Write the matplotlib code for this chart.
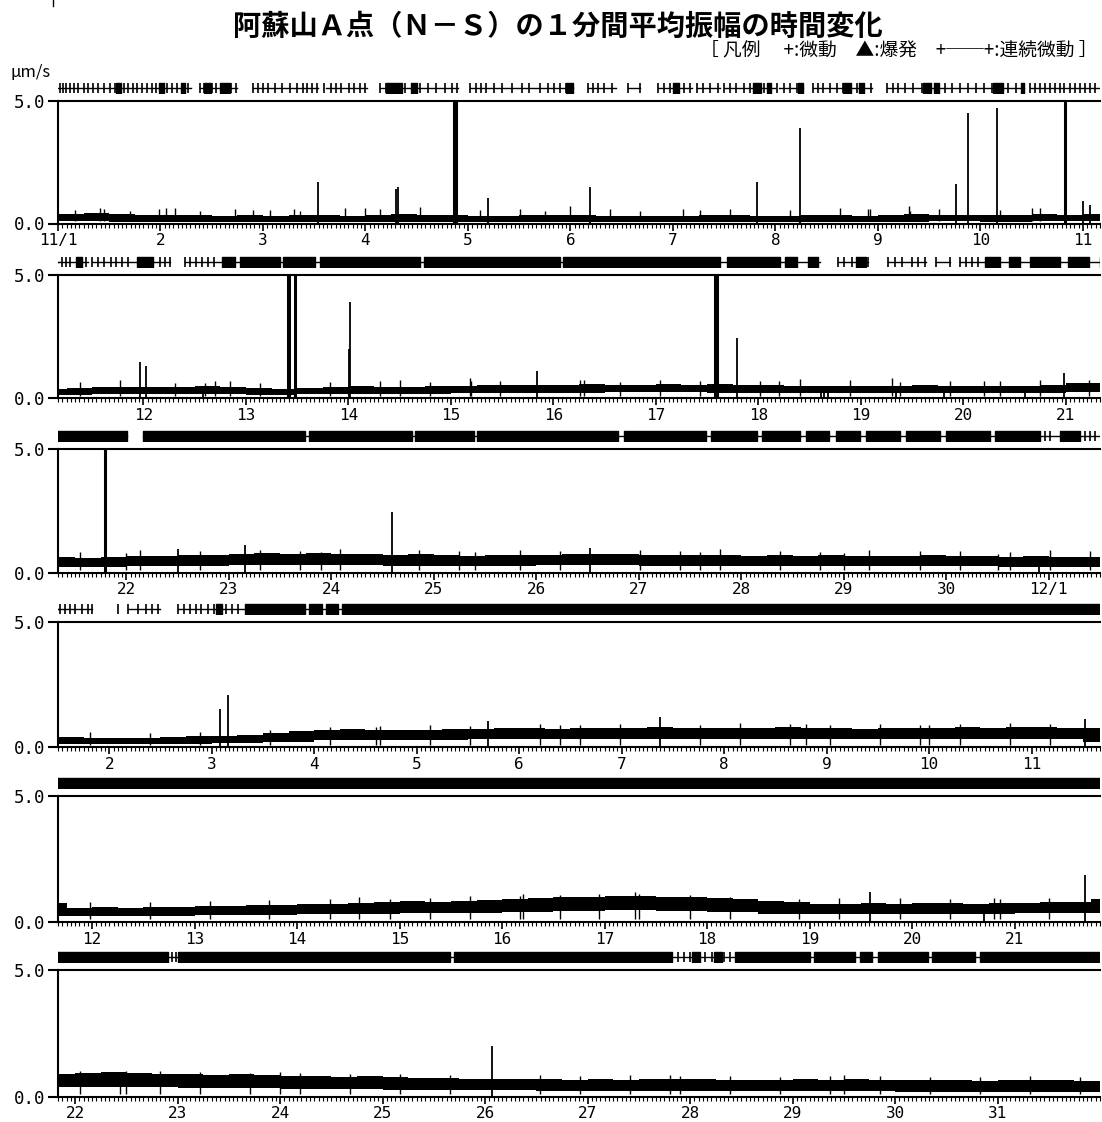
import matplotlib.pyplot as plt
import numpy as np
from matplotlib.ticker import MultipleLocator

plt.rcParams['font.family'] = ['Noto Sans CJK JP', 'DejaVu Sans']

# time axis: days counted from 11/1 00:00, six rows of 61/6 days each
n_rows = 6
row_days = 61 / 6

# top edge of the 1-minute amplitude trace (um/s), one value per 6 hours
trace_top = [
    # 11/1 - 11/10
    .40, .42, .38, .36, .34, .36, .32, .34, .32, .34, .36, .32, .36, .40, .36, .34,
    .32, .30, .33, .36, .34, .32, .30, .30, .30, .33, .34, .30, .32, .36, .34, .32,
    .34, .38, .36, .34, .34, .36, .38, .36,
    # 11/11 - 11/20
    .38, .40, .44, .46, .44, .46, .48, .46, .40, .36, .42, .46, .48, .46, .44, .48,
    .48, .52, .54, .52, .54, .56, .52, .54, .56, .54, .58, .54, .52, .50, .48, .50,
    .48, .50, .52, .48, .50, .48, .50, .52,
    # 11/21 - 11/30
    .60, .62, .60, .64, .66, .66, .70, .72, .74, .78, .76, .78, .76, .74, .72, .74,
    .70, .68, .70, .72, .72, .74, .76, .74, .72, .70, .72, .70, .68, .70, .68, .70,
    .68, .66, .68, .70, .68, .66, .64, .66,
    # 12/1 - 12/10
    .64, .62, .40, .38, .36, .38, .40, .44, .46, .50, .58, .64, .70, .72, .70, .68,
    .70, .72, .74, .76, .76, .74, .76, .78, .78, .80, .78, .76, .76, .78, .80, .78,
    .76, .74, .76, .78, .78, .80, .78, .80,
    # 12/11 - 12/20
    .80, .78, .76, .56, .58, .56, .60, .60, .62, .64, .66, .68, .70, .72, .76, .78,
    .82, .80, .84, .88, .92, .96, .98, 1.00, 1.02, 1.04, 1.00, .98, .94, .90, .84, .78,
    .72, .70, .74, .72, .74, .76, .72, .74,
    # 12/21 - 12/31
    .76, .78, .80, .90, .94, .96, .92, .90, .88, .84, .88, .86, .82, .80, .78, .80,
    .76, .74, .72, .70, .68, .70, .68, .66, .68, .66, .68, .70, .68, .66, .64, .66,
    .68, .66, .68, .66, .64, .66, .64, .62, .64, .66, .64, .62,
]

# bottom edge of the trace, one value per 12 hours
trace_low = [
    .10, .08, .08, .08, .08, .07, .08, .08, .07, .08, .07, .07, .07, .08, .08, .08, .08, .09, .08, .09,
    .12, .16, .18, .16, .14, .16, .18, .18, .20, .22, .22, .24, .24, .22, .22, .20, .20, .20, .20, .22,
    .24, .24, .26, .28, .32, .32, .30, .28, .28, .28, .30, .30, .28, .28, .28, .26, .26, .26, .26, .24,
    .24, .12, .12, .14, .16, .22, .28, .30, .30, .32, .32, .34, .34, .34, .34, .34, .32, .32, .34, .34,
    .34, .22, .22, .24, .26, .28, .30, .32, .34, .36, .40, .44, .46, .44, .40, .32, .30, .30, .30, .32,
    .34, .36, .38, .36, .34, .32, .30, .28, .26, .24, .24, .22, .22, .22, .22, .20, .20, .20, .18, .18,
    .18, .18,
]

# isolated peaks (time in days from 11/1, amplitude um/s; >5 is off scale)
spike_t = [2.54, 3.30, 3.32, 3.86, 3.87, 3.88, 4.20, 5.19, 6.82, 7.24, 8.76, 8.88, 9.16, 9.83,
           10.00, 10.07,
           10.97, 11.03, 12.41, 12.42, 12.48, 13.01, 13.02, 14.84, 16.58, 16.60, 16.79, 19.98,
           20.79, 21.50, 22.16, 23.59, 25.52,
           32.08, 32.16, 34.70, 36.37, 40.52,
           48.59, 50.69,
           55.07]
spike_h = [1.68, 1.40, 1.50, 5.5, 5.5, 5.5, 1.05, 1.50, 1.70, 3.90, 1.60, 4.50, 4.70, 5.5,
           0.90, 0.75,
           1.45, 1.30, 5.5, 5.5, 5.5, 2.00, 3.90, 1.10, 5.5, 5.5, 2.45, 1.00,
           5.5, 0.95, 1.10, 2.45, 1.00,
           1.55, 2.10, 1.05, 1.20, 1.15,
           1.20, 1.85,
           2.00]

# small bumps on top of the trace
ripple_t = [0.17, 0.41, 0.45, 0.70, 0.99, 1.05, 1.14, 1.39, 1.73, 1.90, 2.07, 2.30, 2.36, 2.80,
            3.00, 3.14, 3.53, 4.12, 4.51, 4.75, 5.00, 5.39, 5.68, 6.10, 6.26, 6.56, 7.14, 7.63,
            7.90, 7.92, 8.30, 8.31, 8.60, 9.19, 9.50, 9.58,
            10.38, 10.77, 11.31, 11.60, 11.70, 11.84, 12.14, 12.82, 13.31, 13.50, 13.80, 14.19,
            14.20, 14.48, 15.26, 15.30, 15.65, 16.04, 16.43, 17.02, 17.20, 17.41, 17.89, 18.30,
            18.38, 18.87, 19.20, 19.36, 19.75, 20.23,
            20.55, 21.00, 21.13, 21.72, 22.30, 22.69, 22.90, 23.08, 23.86, 24.25, 24.40, 24.84,
            25.23, 26.01, 26.40, 26.60, 26.79, 27.38, 27.77, 28.00, 28.25, 28.74, 29.13, 29.50,
            29.62, 30.01, 30.40,
            30.81, 31.40, 31.89, 32.57, 33.15, 33.60, 33.64, 34.13, 34.52, 35.20, 35.40, 35.59,
            35.98, 36.76, 37.15, 37.64, 37.80, 38.03, 38.52, 38.91, 39.00, 39.30, 39.79, 40.18,
            40.98, 41.56, 42.15, 42.73, 43.32, 43.60, 43.91, 44.30, 44.69, 45.17, 45.20, 45.56,
            45.95, 46.30, 46.34, 46.83, 47.22, 47.90, 48.29, 48.88, 49.37, 49.80, 49.86, 50.34,
            51.05, 51.44, 51.50, 51.83, 52.22, 52.71, 53.00, 53.19, 53.68, 54.17, 54.66, 55.54,
            55.93, 56.41, 56.80, 56.90, 57.39, 57.88, 58.37, 58.50, 58.85, 59.34, 59.83, 60.32,
            60.80]
ripple_h = [.55, .62, .60, .50, .58, .65, .65, .52, .60, .55, .55, .60, .50, .62,
            .65, .58, .66, .55, .60, .52, .70, .58, .50, .60, .56, .60, .54, .62,
            .60, .58, .70, .52, .60, .56, .65, .62,
            .65, .72, .62, .60, .70, .68, .60, .66, .70, .75, .64, .80,
            .70, .68, .72, .75, .66, .74, .70, .68, .70, .76, .72, .80,
            .66, .70, .70, .68, .74, .72,
            .85, .80, .90, .86, .92, .88, .85, .95, .90, .86, .85, .92,
            .88, .90, .86, .85, .94, .88, .84, .80, .90, .86, .88, .75,
            .84, .90, .86,
            .60, .58, .62, .70, .80, .80, .86, .90, .84, .92, .90, .88,
            .94, .90, .96, .92, .95, .88, .94, .90, .90, .92, .96, .94,
            .78, .80, .84, .86, .90, 1.00, .92, .96, 1.02, 1.05, 1.10, 1.08,
            1.12, 1.20, 1.10, 1.06, 1.00, .92, .96, .94, .92, .95, .90, .96,
            1.00, .98, 1.00, 1.02, .96, .94, .95, .92, .88, .90, .86, .84,
            .82, .84, .85, .80, .82, .78, .80, .85, .80, .78, .76, .80,
            .78]

# short drop-outs of the trace down to zero
dip_t = [11.58, 17.61, 17.64, 17.68, 18.34, 18.81, 19.60, 29.90, 49.70]

# activity row above each panel: continuous tremor lines, dense blocks, single marks
ev_lines = [(0.00, 1.30), (1.39, 1.75), (1.90, 2.54), (2.61, 3.01), (3.14, 3.90), (4.02, 5.02),
            (5.17, 5.44), (5.56, 5.68), (5.85, 6.19), (6.23, 6.46), (6.50, 7.00), (7.03, 7.27),
            (7.37, 7.94), (8.09, 9.43), (9.48, 10.17),
            (10.17, 10.46), (10.50, 11.26), (11.41, 17.60), (17.78, 18.07), (18.26, 18.64),
            (18.73, 18.87), (18.97, 20.33),
            (20.33, 21.01), (21.16, 30.50),
            (30.50, 30.83), (31.18, 31.50), (31.67, 40.67),
            (40.67, 61.00)]
ev_blocks = [(0.57, 0.61), (0.99, 1.03), (1.20, 1.24), (1.42, 1.49), (1.58, 1.68), (3.20, 3.36),
             (3.44, 3.50), (4.96, 5.02), (6.00, 6.06), (6.78, 6.86), (6.92, 6.96), (7.22, 7.27),
             (7.66, 7.74), (7.82, 7.86), (8.44, 8.52), (8.55, 8.60), (9.12, 9.22), (9.40, 9.43),
             (10.34, 10.40), (10.94, 11.09), (11.77, 11.89), (11.94, 12.33), (12.36, 12.67),
             (12.72, 13.70), (13.74, 15.06), (15.09, 16.63), (16.69, 17.21), (17.26, 17.38),
             (17.48, 17.58), (17.95, 18.05), (19.21, 19.36), (19.45, 19.55), (19.65, 19.94),
             (20.02, 20.23),
             (20.33, 21.01), (21.16, 22.74), (22.78, 23.79), (23.82, 24.39), (24.42, 25.80),
             (25.86, 26.66), (26.70, 27.15), (27.20, 27.57), (27.63, 27.86), (27.92, 28.16),
             (28.22, 28.55), (28.61, 28.94), (29.00, 29.43), (29.48, 29.91), (30.11, 30.30),
             (32.04, 32.10), (32.32, 32.91), (32.95, 33.08), (33.11, 33.23), (33.27, 40.67),
             (40.67, 50.83),
             (50.83, 51.91), (52.00, 54.66), (54.70, 56.82), (57.02, 57.10), (57.23, 57.31),
             (57.44, 58.17), (58.21, 58.61), (58.66, 58.78), (58.83, 59.32), (59.36, 59.78),
             (59.83, 61.00)]
ev_ticks = [0.02, 0.05, 0.08, 0.12, 0.16, 0.20, 0.25, 0.29, 0.34, 0.39, 0.45, 0.51, 0.56, 0.60,
            0.64, 0.68, 0.73, 0.77, 0.82, 0.87, 0.92, 0.96, 1.01, 1.06, 1.11, 1.16, 1.22, 1.27,
            1.39, 1.42, 1.50, 1.54, 1.60, 1.64, 1.69, 1.74,
            1.90, 1.95, 2.00, 2.05, 2.12, 2.19, 2.26, 2.33, 2.39, 2.43, 2.48, 2.53,
            2.60, 2.66, 2.71, 2.76, 2.84, 2.89, 2.95, 3.00,
            3.14, 3.20, 3.26, 3.34, 3.39, 3.45, 3.53, 3.61, 3.69, 3.78, 3.84, 3.89,
            4.02, 4.08, 4.13, 4.18, 4.25, 4.33, 4.43, 4.53, 4.60, 4.70, 4.78, 4.84, 4.90, 4.96, 5.00,
            5.17, 5.22, 5.27, 5.33, 5.41, 5.56, 5.68,
            5.85, 5.91, 5.97, 6.04, 6.11, 6.17, 6.23, 6.29, 6.36, 6.44,
            6.50, 6.56, 6.62, 6.69, 6.75, 6.82, 6.89, 6.95, 7.02, 7.08, 7.14, 7.21, 7.26,
            7.37, 7.42, 7.46, 7.53, 7.60, 7.66, 7.73, 7.80, 7.86, 7.93,
            8.09, 8.15, 8.20, 8.26, 8.34, 8.43, 8.51, 8.58, 8.65, 8.72, 8.80, 8.88, 8.96, 9.03,
            9.11, 9.19, 9.27, 9.35, 9.41,
            9.48, 9.53, 9.58, 9.63, 9.68, 9.73, 9.78, 9.82, 9.87, 9.92, 9.97, 10.02, 10.07, 10.12,
            10.21, 10.24, 10.28, 10.44, 10.50, 10.56, 10.62, 10.68, 10.73, 10.79, 10.85,
            11.16, 11.21, 11.26, 11.41, 11.45, 11.51, 11.57, 11.63, 11.69,
            17.78, 17.84, 17.91, 18.07, 18.26, 18.33, 18.40, 18.50, 18.56, 18.63, 18.73, 18.87,
            18.97, 19.03, 19.08, 19.14,
            29.96, 30.01, 30.35, 30.40, 30.45,
            30.52, 30.57, 30.62, 30.67, 30.73, 30.79, 30.83, 31.09, 31.18, 31.28, 31.36, 31.42, 31.48,
            31.67, 31.73, 31.79, 31.85, 31.90, 31.96, 32.02, 32.08, 32.14, 32.20, 32.26,
            51.95, 51.98, 56.88, 56.94, 57.00, 57.10, 57.15, 57.21, 57.33, 57.39]


def day_label(d):
    if d == 0:
        return '11/1'
    if d == 30:
        return '12/1'
    return str(d + 1) if d < 30 else str(d - 29)


W, H = 1102, 1122
fig = plt.figure(figsize=(W / 100, H / 100), dpi=100)

# step edges: each 6-hour value holds until the next one
t_top = np.arange(len(trace_top) + 1) * 0.25
top6 = np.append(trace_top, trace_top[-1])
low6 = np.append(np.repeat(trace_low, 2), trace_low[-1])
big = [h > 5 for h in spike_h]

for k in range(n_rows):
    x0 = k * row_days
    x1 = x0 + row_days
    top_px = 101 + 173.8 * k
    bot_px = 223.5 + 174.6 * k
    ax = fig.add_axes([58 / W, 1 - bot_px / H, 1042 / W, (bot_px - top_px) / H])

    ax.fill_between(t_top, low6, top6, step='post', color='black', lw=0)
    ax.vlines(ripple_t, 0.1, ripple_h, color='black', lw=1.0)
    ax.vlines([t for t, b in zip(spike_t, big) if not b], 0,
              [h for h, b in zip(spike_h, big) if not b], color='black', lw=1.3)
    ax.vlines([t for t, b in zip(spike_t, big) if b], 0,
              [h for h, b in zip(spike_h, big) if b], color='black', lw=2.2)
    ax.vlines(dip_t, 0, 0.3, color='black', lw=1.3)

    ax.set_xlim(x0, x1)
    ax.set_ylim(0, 5)
    ax.spines['right'].set_visible(False)
    for s in ['top', 'left', 'bottom']:
        ax.spines[s].set_linewidth(1.5)
    ax.set_yticks([0, 5])
    ax.set_yticklabels(['0.0', '5.0'], family='DejaVu Sans Mono', fontsize=12.5)
    ax.tick_params(axis='y', length=7, width=1.5, pad=2)

    days = [d for d in range(62) if x0 - 1e-6 <= d <= x1]
    ax.set_xticks(days)
    ax.set_xticklabels([day_label(d) for d in days], family='DejaVu Sans Mono', fontsize=11.5)
    ax.xaxis.set_minor_locator(MultipleLocator(1 / 24))
    ax.tick_params(axis='x', which='major', length=5, width=1.2, pad=2)
    ax.tick_params(axis='x', which='minor', length=3, width=0.8)

    # activity row
    ev = fig.add_axes([58 / W, 1 - (top_px - 7) / H, 1042 / W, 12 / H])
    ev.set_xlim(x0, x1)
    ev.set_ylim(0, 1)
    ev.axis('off')
    for a, b in ev_lines:
        ev.plot([a, b], [0.5, 0.5], color='black', lw=1)
    ev.broken_barh([(a, b - a) for a, b in ev_blocks], (0.08, 0.84), color='black')
    ev.vlines(ev_ticks, 0.08, 0.92, color='black', lw=1.2)

fig.text(558 / W, 1 - 27 / H, '阿蘇山Ａ点（Ｎ－Ｓ）の１分間平均振幅の時間変化',
         ha='center', va='center', fontsize=20.3, fontweight='bold')
fig.text(1097 / W, 1 - 51 / H, '［ 凡例　 +:微動　▲:爆発　+──+:連続微動 ］',
         ha='right', va='center', fontsize=13.5)
fig.text(10 / W, 1 - 72 / H, 'μm/s', ha='left', va='center', fontsize=12)
fig.add_artist(plt.Line2D([53 / W, 53 / W], [1, 1 - 6 / H], color='black', lw=1))

fig.savefig('out.png', dpi=100)
